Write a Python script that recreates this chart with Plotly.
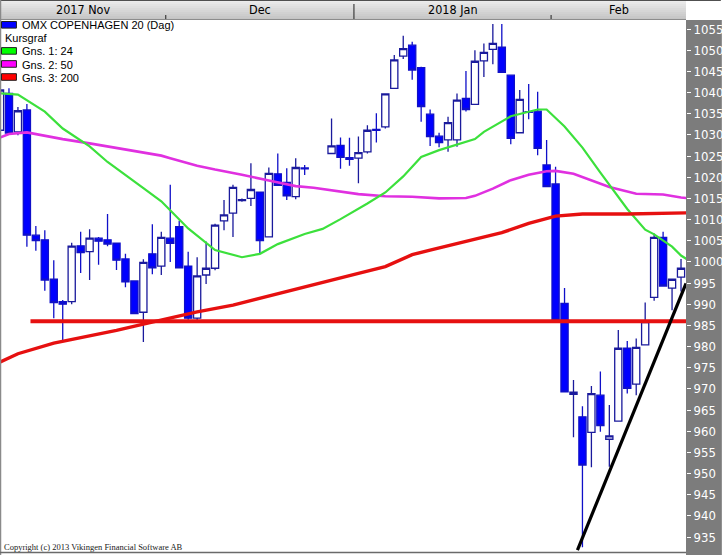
import plotly.graph_objects as go

# ---------------- data (slot = weekday index, slot 0 = first visible session) ----------------
slots = list(range(0, 35)) + list(range(37, 77))
opens = [1031.1, 1039.8, 1030.7, 1035.9, 1006.3, 1005.2, 995.9, 990.6, 990.6, 1003.8,
         1002.4, 1005.6, 1005.2, 1004.4, 1000.7, 995.5, 988.1, 1001.9, 999.0, 1005.6,
         1008.3, 999.0, 986.7, 996.9, 998.5, 1009.7, 1011.5, 1014.5, 1015.0, 1016.5,
         1005.9, 1020.8, 1018.8, 1015.4, 1022.2,
         1025.6, 1027.5, 1024.6, 1024.5, 1026.0, 1031.3, 1031.9, 1041.0, 1048.6, 1051.2,
         1045.9, 1034.9, 1029.7, 1028.8, 1028.8, 1038.6, 1037.2, 1047.5, 1050.2, 1050.7,
         1044.1, 1030.5, 1035.5, 1035.6, 1022.9, 1018.4, 990.2, 968.7, 963.4, 959.7,
         968.5, 958.1, 962.4, 979.6, 971.1, 980.4, 991.6, 1005.8, 993.8, 996.4]
highs = [1041.0, 1041.0, 1036.6, 1037.3, 1008.5, 1007.5, 1000.4, 991.0, 1004.5, 1007.1,
         1007.7, 1005.9, 1011.3, 1004.6, 1001.9, 995.5, 1000.6, 1008.9, 1007.1, 1018.2,
         1009.7, 1002.4, 1001.1, 1004.8, 1009.0, 1014.6, 1018.2, 1015.0, 1023.3, 1016.5,
         1022.3, 1025.6, 1022.1, 1024.5, 1022.9,
         1033.9, 1029.4, 1029.3, 1029.6, 1032.3, 1035.1, 1039.7, 1048.9, 1053.4, 1052.0,
         1046.1, 1036.0, 1030.5, 1034.3, 1039.8, 1045.1, 1050.0, 1051.6, 1056.2, 1056.2,
         1044.1, 1040.6, 1042.0, 1040.2, 1028.8, 1022.5, 993.8, 972.1, 965.9, 970.7,
         974.1, 966.2, 983.9, 981.3, 981.9, 990.4, 1006.7, 1007.1, 996.1, 1000.7]
lows = [1030.0, 1030.4, 1029.9, 1003.6, 1002.6, 993.2, 986.7, 981.5, 990.0, 997.4,
        995.7, 999.3, 1003.7, 998.1, 994.0, 987.8, 981.1, 997.1, 996.9, 1000.0,
        998.6, 986.3, 986.0, 994.8, 998.0, 1007.5, 1005.9, 1014.2, 1013.2, 1002.0,
        1005.9, 1018.0, 1014.6, 1014.8, 1020.5,
        1025.6, 1022.0, 1022.7, 1018.6, 1025.6, 1028.2, 1031.5, 1041.0, 1047.9, 1043.0,
        1033.1, 1027.4, 1027.1, 1026.0, 1027.2, 1035.5, 1037.2, 1043.7, 1046.7, 1044.8,
        1027.8, 1030.5, 1033.7, 1025.2, 1017.8, 986.3, 969.3, 958.6, 932.6, 951.5,
        959.9, 951.6, 962.4, 968.9, 968.5, 980.4, 990.8, 994.3, 988.6, 993.0]
closes = [1040.6, 1030.4, 1035.7, 1006.3, 1005.0, 995.7, 990.4, 990.0, 1003.7, 1002.2,
          1005.6, 1004.9, 1004.2, 1000.4, 995.3, 987.8, 999.9, 998.6, 1005.8, 1004.4,
          998.6, 986.7, 996.7, 998.5, 1008.7, 1011.1, 1017.6, 1014.7, 1017.1, 1005.0,
          1020.9, 1018.1, 1015.6, 1022.3, 1022.0,
          1027.4, 1024.7, 1024.2, 1025.8, 1031.1, 1031.1, 1039.7, 1047.7, 1050.4, 1045.3,
          1036.7, 1029.6, 1028.2, 1032.9, 1038.2, 1036.0, 1047.4, 1049.5, 1051.6, 1044.8,
          1029.2, 1038.4, 1035.3, 1026.8, 1017.8, 986.3, 969.3, 969.2, 952.0, 968.9,
          961.3, 958.9, 979.6, 970.1, 979.8, 985.9, 1005.8, 994.3, 995.9, 998.5]

# moving averages (slot, value)
ma24_slots = [0, 2, 5, 7, 10, 12, 16, 18, 21, 23, 24, 27, 29, 31, 34, 36, 38, 41, 43, 45,
              47, 49, 53, 54, 57, 60, 61, 63, 65, 67, 68, 70, 72, 73, 75, 76, 77]
ma24_vals = [1039.8, 1039.5, 1035.5, 1031.5, 1027.3, 1023.6, 1017.4, 1014.3, 1007.9, 1004.4,
             1002.8, 1001.1, 1001.9, 1004.2, 1006.6, 1007.8, 1010.1, 1013.8, 1016.4, 1020.2,
             1024.8, 1026.4, 1029.0, 1030.7, 1034.4, 1036.0, 1036.0, 1032.0, 1027.0, 1021.1,
             1018.3, 1012.5, 1007.6, 1006.5, 1003.6, 1001.5, 1000.2]
ma50_slots = [0, 1, 3, 5, 7, 10, 12, 15, 18, 19, 22, 24, 27, 30, 33, 35, 38, 40, 43, 46,
              49, 52, 53, 55, 57, 59, 61, 62, 64, 66, 68, 71, 74, 76, 77]
ma50_vals = [1029.4, 1030.2, 1030.6, 1029.8, 1029.0, 1028.0, 1027.3, 1026.3, 1025.1, 1024.5,
             1022.7, 1021.8, 1020.6, 1019.2, 1017.9, 1017.5, 1016.7, 1016.0, 1015.5, 1015.4,
             1015.0, 1015.1, 1015.6, 1017.3, 1019.3, 1020.6, 1021.4, 1021.5, 1020.8, 1019.2,
             1017.7, 1016.1, 1015.9, 1015.2, 1015.0]
ma200_slots = [0, 2, 6, 10, 13, 16, 22, 26, 30, 33, 36, 40, 43, 46, 48, 52, 56, 59, 62, 65,
               70, 77]
ma200_vals = [976.3, 978.3, 980.8, 982.4, 983.8, 985.3, 988.2, 989.8, 992.0, 993.6,
              995.3, 997.3, 998.9, 1001.7, 1002.8, 1004.9, 1006.9, 1009.1, 1010.8, 1011.3,
              1011.3, 1011.6]

support_level = 986.0
support_start_slot = 3.4
trend_slots = [64.44, 76.56]
trend_vals = [931.9, 994.9]

y_ticks = list(range(935, 1060, 5))
month_names = ["2017 Nov", "Dec", "2018 Jan", "Feb"]
month_bounds = [18.5, 39.5, 61.5]          # slot positions of month changes
year_bound = 39.5

legend_items = [("OMX COPENHAGEN 20 (Dag)", "#0000ff"), ("Kursgraf", None),
                ("Gns. 1: 24", "#00ff00"), ("Gns. 2: 50", "#ff00ff"), ("Gns. 3: 200", "#ff0000")]

# ---------------- layout geometry ----------------
W, H = 724, 555
PL, PR, PT, PB = 1, 689, 20, 551
X_RANGE = [PL / 9.0, PL / 9.0 + (PR - PL) / 9.0]
Y_RANGE = [931.70, 1057.14]


def px(x):
    return (x - PL) / (PR - PL)


def py(y):
    return (PB - y) / (PB - PT)


NARROW = "Liberation Sans Narrow, DejaVu Sans Condensed, Arial Narrow, sans-serif"
SANS = "Liberation Sans, Arial, sans-serif"

fig = go.Figure()

fig.add_trace(go.Candlestick(
    x=slots, open=opens, high=highs, low=lows, close=closes,
    increasing=dict(line=dict(color="#1a1a9c", width=1.3), fillcolor="#ffffff"),
    decreasing=dict(line=dict(color="#1010c8", width=1.3), fillcolor="#0000ff"),
    whiskerwidth=0, showlegend=False, hoverinfo="skip"))

fig.add_trace(go.Scatter(x=ma50_slots, y=ma50_vals, mode="lines",
                         line=dict(color="#e030e0", width=2.6), showlegend=False, hoverinfo="skip"))
fig.add_trace(go.Scatter(x=ma24_slots, y=ma24_vals, mode="lines",
                         line=dict(color="#3ce03c", width=2.2), showlegend=False, hoverinfo="skip"))
fig.add_trace(go.Scatter(x=ma200_slots, y=ma200_vals, mode="lines",
                         line=dict(color="#e61010", width=3.4), showlegend=False, hoverinfo="skip"))
fig.add_trace(go.Scatter(x=[support_start_slot, X_RANGE[1] + 1], y=[support_level, support_level],
                         mode="lines", line=dict(color="#e61010", width=4),
                         showlegend=False, hoverinfo="skip"))
fig.add_trace(go.Scatter(x=trend_slots, y=trend_vals, mode="lines",
                         line=dict(color="#000000", width=3.2), showlegend=False, hoverinfo="skip"))

shapes = []
# header gradient bar
n_bands = 10
for i in range(n_bands):
    t = i / (n_bands - 1)
    c = int(round(236 - t * (236 - 196)))
    shapes.append(dict(type="rect", xref="paper", yref="paper",
                       x0=px(0), x1=px(PR), y0=py(2 * i + 2), y1=py(2 * i),
                       fillcolor="rgb(%d,%d,%d)" % (c, c, c), line=dict(width=0), layer="below"))
shapes.append(dict(type="line", xref="paper", yref="paper", x0=px(0), x1=px(W),
                   y0=py(0.5), y1=py(0.5), line=dict(color="#505050", width=1)))
shapes.append(dict(type="line", xref="paper", yref="paper", x0=px(0), x1=px(PR),
                   y0=py(19.5), y1=py(19.5), line=dict(color="#8c8c8c", width=1)))
# month boundary ticks in header
for b in month_bounds:
    top = 4 if b == year_bound else 15
    shapes.append(dict(type="line", xref="x", yref="paper", x0=b, x1=b,
                       y0=py(19), y1=py(top), line=dict(color="#202020", width=1)))
# right axis panel
shapes.append(dict(type="rect", xref="paper", yref="paper", x0=px(PR), x1=px(W + 1),
                   y0=py(H + 1), y1=py(PT), fillcolor="#7c7c7c", line=dict(width=0), layer="below"))
# frame lines
shapes.append(dict(type="line", xref="paper", yref="paper", x0=px(0.5), x1=px(0.5),
                   y0=py(H), y1=py(0), line=dict(color="#8a8a8a", width=1.5)))
shapes.append(dict(type="line", xref="paper", yref="paper", x0=px(0), x1=px(PR),
                   y0=py(552.5), y1=py(552.5), line=dict(color="#6a6a6a", width=1.5)))

annotations = []
# month labels centred in visible part of each month
edges = [X_RANGE[0]] + month_bounds + [X_RANGE[1]]
for i, name in enumerate(month_names):
    annotations.append(dict(x=(edges[i] + edges[i + 1]) / 2, y=py(9), xref="x", yref="paper",
                            text=name, showarrow=False, xanchor="center", yanchor="middle",
                            font=dict(family=NARROW, size=12.5, color="#000000")))

# legend (top-left)
for i, (label, col) in enumerate(legend_items):
    yc = 24.8 + i * 13.05
    if col is not None:
        shapes.append(dict(type="rect", xref="paper", yref="paper", x0=px(1.5), x1=px(16.5),
                           y0=py(yc + 3.3), y1=py(yc - 3.3), fillcolor=col,
                           line=dict(color="#202020", width=1)))
        xt = 20.0
    else:
        xt = 3.0
    annotations.append(dict(x=px(xt), y=py(yc + 0.6), xref="paper", yref="paper", text=label,
                            showarrow=False, xanchor="left", yanchor="middle",
                            font=dict(family=SANS, size=11, color="#000000")))

annotations.append(dict(x=px(2.5), y=py(546.5), xref="paper", yref="paper",
                        text="Copyright (c) 2013 Vikingen Financial Software AB",
                        showarrow=False, xanchor="left", yanchor="middle",
                        font=dict(family="Liberation Serif, Times New Roman, serif", size=8.5,
                                  color="#202020")))

fig.update_layout(
    width=W, height=H, autosize=False,
    margin=dict(l=PL, r=W - PR, t=PT, b=H - PB, pad=0),
    paper_bgcolor="#ffffff", plot_bgcolor="#ffffff",
    boxgap=0.0, boxgroupgap=0.2,
    shapes=shapes, annotations=annotations, showlegend=False,
    xaxis=dict(range=X_RANGE, showgrid=False, zeroline=False, showticklabels=False,
               ticks="", showline=False, rangeslider=dict(visible=False), fixedrange=True),
    yaxis=dict(range=Y_RANGE, side="right", showgrid=False, zeroline=False, showline=False,
               tickmode="array", tickvals=y_ticks, ticktext=[str(v) for v in y_ticks],
               ticks="outside", ticklen=4, tickwidth=1, tickcolor="#ffffff",
               tickfont=dict(family=NARROW, size=13, color="#ffffff"), fixedrange=True),
)

fig.write_html("out.html", config={"displayModeBar": False},
               post_script="document.body.style.margin='0px';document.body.style.padding='0px';")
